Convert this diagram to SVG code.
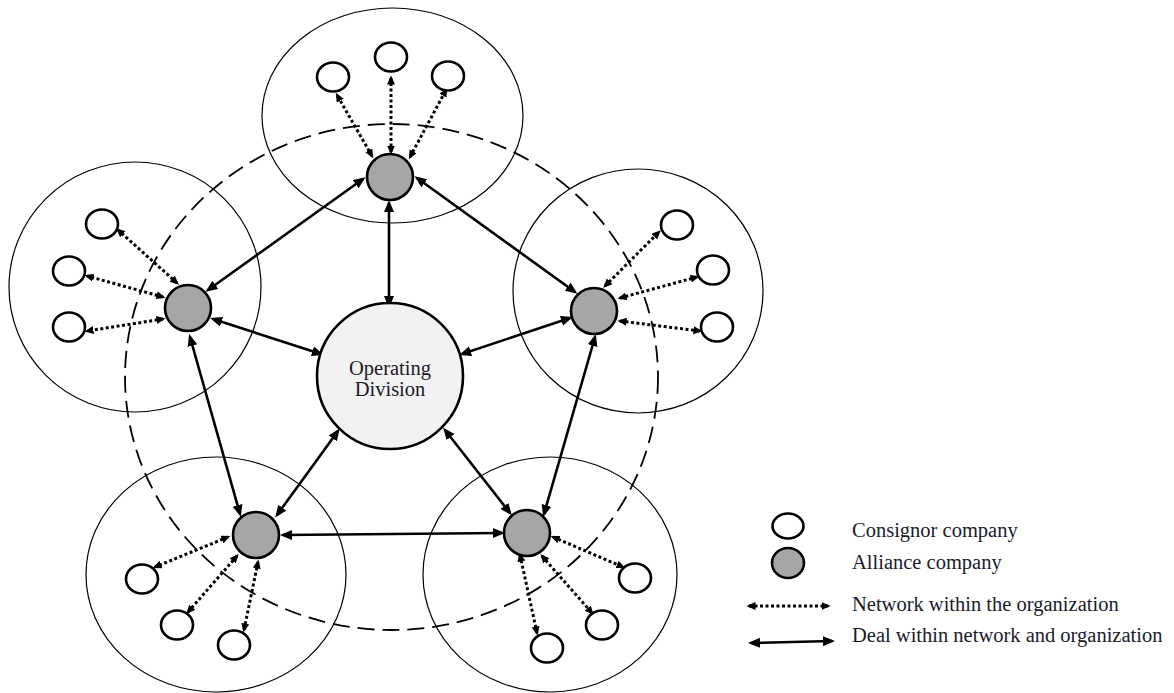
<svg xmlns="http://www.w3.org/2000/svg" width="1174" height="693" viewBox="0 0 1174 693">
<style>
.bg{fill:#ffffff}
.cluster{fill:none;stroke:#000;stroke-width:1.2}
.ring{fill:none;stroke:#000;stroke-width:1.8;stroke-dasharray:17 8}
.cons{fill:#fff;stroke:#000;stroke-width:2.6}
.ally{fill:#a6a6a6;stroke:#000;stroke-width:2.6}
.core{fill:#f2f2f2;stroke:#000;stroke-width:2.6}
.deal{stroke:#000;stroke-width:2.6;fill:none;marker-start:url(#ah);marker-end:url(#ah)}
.net{stroke:#000;stroke-width:3;stroke-dasharray:3 2.5;fill:none;marker-start:url(#dh);marker-end:url(#dh)}
.t{font-family:"Liberation Serif","Times New Roman",serif;font-size:20.5px;fill:#1a1a2a}
</style>
<defs>
<marker id="ah" markerUnits="userSpaceOnUse" markerWidth="13" markerHeight="11" refX="9" refY="5" orient="auto-start-reverse"><path d="M0,0 L12,5 L0,10 z" fill="#000"/></marker>
<marker id="dh" markerUnits="userSpaceOnUse" markerWidth="10" markerHeight="9" refX="6.5" refY="4" orient="auto-start-reverse"><path d="M0,0 L9,4 L0,8 z" fill="#000"/></marker>
</defs>
<rect class="bg" x="0" y="0" width="1174" height="693"/>
<g id="clusters">
<ellipse class="cluster" cx="392.5" cy="115.5" rx="130.5" ry="107.5"/>
<ellipse class="cluster" cx="135" cy="287" rx="126" ry="125"/>
<ellipse class="cluster" cx="638" cy="291" rx="125" ry="122"/>
<ellipse class="cluster" cx="216" cy="574.5" rx="130" ry="117.5"/>
<ellipse class="cluster" cx="550" cy="574.5" rx="127" ry="117.5"/>
</g>
<ellipse id="network-ring" class="ring" cx="391.5" cy="377" rx="266.5" ry="253"/>
<g id="connectors">
<line class="deal" x1="389" y1="203" x2="389" y2="305"/>
<line class="deal" x1="363" y1="179" x2="208" y2="290"/>
<line class="deal" x1="417" y1="178" x2="575" y2="292"/>
<line class="deal" x1="213" y1="319" x2="321" y2="354"/>
<line class="deal" x1="570" y1="318" x2="462" y2="354"/>
<line class="deal" x1="190" y1="337" x2="240" y2="514"/>
<line class="deal" x1="595" y1="337" x2="544" y2="514"/>
<line class="deal" x1="277" y1="515" x2="338" y2="431"/>
<line class="deal" x1="510" y1="513" x2="445" y2="430"/>
<line class="deal" x1="283" y1="535" x2="502" y2="533"/>
<line class="net" x1="372" y1="156" x2="337" y2="95"/>
<line class="net" x1="391" y1="152" x2="391" y2="78"/>
<line class="net" x1="410" y1="157" x2="446" y2="90"/>
<line class="net" x1="177" y1="283" x2="118" y2="230"/>
<line class="net" x1="163" y1="297" x2="87" y2="276"/>
<line class="net" x1="163" y1="319" x2="87" y2="331"/>
<line class="net" x1="605" y1="286" x2="659" y2="232"/>
<line class="net" x1="620" y1="298" x2="697" y2="277"/>
<line class="net" x1="620" y1="321" x2="700" y2="331"/>
<line class="net" x1="228" y1="537" x2="155" y2="567"/>
<line class="net" x1="237" y1="556" x2="188" y2="612"/>
<line class="net" x1="258" y1="562" x2="244" y2="630"/>
<line class="net" x1="553" y1="537" x2="623" y2="567"/>
<line class="net" x1="542" y1="556" x2="592" y2="613"/>
<line class="net" x1="520" y1="555" x2="537" y2="633"/>
</g>
<g id="operating-division">
<circle class="core" cx="390" cy="376" r="73"/>
<text class="t" x="390" y="375" text-anchor="middle">Operating</text>
<text class="t" x="390" y="396" text-anchor="middle">Division</text>
</g>
<g id="alliance-top"><circle class="ally" cx="390" cy="177" r="23"/></g>
<g id="alliance-left"><circle class="ally" cx="188" cy="308" r="23"/></g>
<g id="alliance-right"><circle class="ally" cx="594" cy="311" r="23"/></g>
<g id="alliance-bottom-left"><circle class="ally" cx="256" cy="535" r="23"/></g>
<g id="alliance-bottom-right"><circle class="ally" cx="527" cy="533" r="23"/></g>
<g id="consignors-top">
<ellipse class="cons" cx="333" cy="77" rx="16" ry="14.5"/>
<ellipse class="cons" cx="391" cy="57" rx="16" ry="14.5"/>
<ellipse class="cons" cx="448" cy="76" rx="16" ry="14.5"/>
</g>
<g id="consignors-left">
<ellipse class="cons" cx="102" cy="224" rx="16" ry="14.5"/>
<ellipse class="cons" cx="69" cy="271" rx="16" ry="14.5"/>
<ellipse class="cons" cx="69" cy="327" rx="16" ry="14.5"/>
</g>
<g id="consignors-right">
<ellipse class="cons" cx="677" cy="225" rx="16" ry="14.5"/>
<ellipse class="cons" cx="713" cy="270" rx="16" ry="14.5"/>
<ellipse class="cons" cx="717" cy="327" rx="16" ry="14.5"/>
</g>
<g id="consignors-bottom-left">
<ellipse class="cons" cx="142" cy="579" rx="16" ry="14.5"/>
<ellipse class="cons" cx="177" cy="625" rx="16" ry="14.5"/>
<ellipse class="cons" cx="234" cy="645" rx="16" ry="14.5"/>
</g>
<g id="consignors-bottom-right">
<ellipse class="cons" cx="635" cy="578" rx="16" ry="14.5"/>
<ellipse class="cons" cx="602" cy="625" rx="16" ry="14.5"/>
<ellipse class="cons" cx="547" cy="648" rx="16" ry="14.5"/>
</g>
<g id="legend">
<ellipse class="cons" cx="788" cy="526" rx="15.5" ry="12.5"/>
<ellipse class="ally" cx="788" cy="563" rx="16" ry="15"/>
<line class="net" x1="749" y1="606" x2="828" y2="606"/>
<line class="deal" x1="751" y1="643" x2="832" y2="641"/>
<text class="t" x="852" y="537">Consignor company</text>
<text class="t" x="852" y="569">Alliance company</text>
<text class="t" x="852" y="611">Network within the organization</text>
<text class="t" x="852" y="642">Deal within network and organization</text>
</g>
</svg>
